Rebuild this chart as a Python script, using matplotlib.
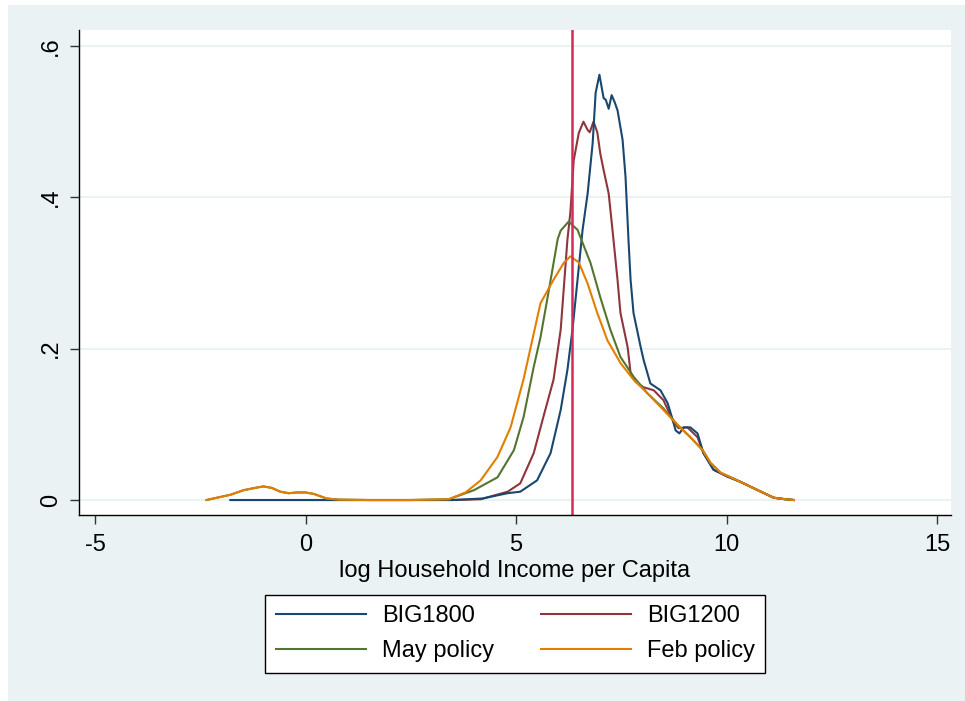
import numpy as np
import matplotlib.pyplot as plt
from matplotlib.patches import Rectangle

plt.rcParams['font.family'] = ['Liberation Sans', 'DejaVu Sans']
plt.rcParams['axes.unicode_minus'] = False

# Kernel density estimates
x_big1800 = [-1.78, 0.0, 2.0, 3.5, 4.2, 4.8, 5.1, 5.5, 5.82, 6.06, 6.22, 6.34, 6.46, 6.58, 6.7,
             6.82, 6.89, 6.98, 7.08, 7.13, 7.2, 7.27, 7.34, 7.41, 7.53, 7.6, 7.67, 7.72, 7.79,
             7.96, 8.03, 8.19, 8.43, 8.6, 8.72, 8.79, 8.88, 8.98, 9.14, 9.31, 9.45, 9.69, 10.02,
             10.33, 10.74, 11.12, 11.4, 11.6]
y_big1800 = [0.0, 0.0, 0.0, 0.0, 0.002, 0.009, 0.011, 0.026, 0.062, 0.119, 0.172, 0.225, 0.291,
             0.357, 0.405, 0.472, 0.538, 0.562, 0.531, 0.529, 0.517, 0.535, 0.526, 0.515, 0.476,
             0.427, 0.344, 0.291, 0.247, 0.202, 0.185, 0.154, 0.145, 0.128, 0.106, 0.092, 0.088,
             0.096, 0.096, 0.088, 0.062, 0.040, 0.031, 0.024, 0.013, 0.003, 0.001, 0.0]

x_big1200 = [-1.78, 0.0, 2.0, 3.5, 4.16, 4.8, 5.1, 5.42, 5.65, 5.89, 6.06, 6.22, 6.29, 6.37,
             6.49, 6.6, 6.7, 6.75, 6.84, 6.93, 7.0, 7.08, 7.2, 7.29, 7.41, 7.48, 7.65, 7.72,
             7.84, 8.03, 8.27, 8.5, 8.74, 8.86, 9.07, 9.31, 9.45, 9.69, 10.02, 10.33, 10.74,
             11.12, 11.4, 11.6]
y_big1200 = [0.0, 0.0, 0.0, 0.0, 0.001, 0.011, 0.022, 0.062, 0.11, 0.159, 0.225, 0.344, 0.38,
             0.449, 0.485, 0.5, 0.489, 0.486, 0.5, 0.486, 0.458, 0.436, 0.405, 0.357, 0.291,
             0.247, 0.202, 0.168, 0.156, 0.149, 0.145, 0.132, 0.103, 0.095, 0.096, 0.083, 0.062,
             0.040, 0.031, 0.024, 0.013, 0.003, 0.001, 0.0]

x_may = [-2.35, -1.78, -1.47, -1.2, -1.0, -0.8, -0.6, -0.4, -0.2, 0.0, 0.2, 0.5, 0.8, 1.5,
         2.5, 3.4, 4.0, 4.56, 4.95, 5.18, 5.42, 5.58, 5.75, 5.99, 6.06, 6.25, 6.46, 6.77, 7.0,
         7.24, 7.48, 7.79, 8.12, 8.5, 8.84, 9.14, 9.43, 9.62, 9.86, 10.1, 10.33, 10.74, 11.12,
         11.4, 11.6]
y_may = [0.0, 0.007, 0.013, 0.016, 0.018, 0.016, 0.011, 0.009, 0.01, 0.01, 0.008, 0.002,
         0.0005, 0.0, 0.0, 0.001, 0.013, 0.03, 0.066, 0.11, 0.176, 0.215, 0.268, 0.345, 0.356,
         0.368, 0.357, 0.313, 0.268, 0.225, 0.189, 0.163, 0.141, 0.121, 0.099, 0.083, 0.066,
         0.049, 0.036, 0.030, 0.024, 0.013, 0.003, 0.001, 0.0]

x_feb = [-2.35, -1.78, -1.47, -1.2, -1.0, -0.8, -0.6, -0.4, -0.2, 0.0, 0.2, 0.5, 0.8, 1.5,
         2.5, 3.4, 3.8, 4.16, 4.56, 4.87, 5.18, 5.42, 5.58, 5.89, 6.13, 6.29, 6.49, 6.7, 6.93,
         7.17, 7.48, 7.79, 8.12, 8.5, 8.84, 9.14, 9.43, 9.62, 9.86, 10.1, 10.33, 10.74, 11.12,
         11.4, 11.6]
y_feb = [0.0, 0.007, 0.013, 0.016, 0.018, 0.016, 0.011, 0.009, 0.01, 0.01, 0.008, 0.002,
         0.0005, 0.0, 0.0, 0.001, 0.01, 0.026, 0.057, 0.096, 0.16, 0.22, 0.26, 0.291, 0.313,
         0.322, 0.314, 0.286, 0.247, 0.211, 0.181, 0.159, 0.141, 0.119, 0.099, 0.083, 0.066,
         0.049, 0.036, 0.030, 0.024, 0.013, 0.003, 0.001, 0.0]

cutoff = 6.34
labels = ["BIG1800", "BIG1200", "May policy", "Feb policy"]
colors = ["#1A476F", "#90353B", "#55752F", "#E37E00"]

fig = plt.figure(figsize=(9.65, 7.01), dpi=100, facecolor="white")
# Stata-like outer background
fig.patches.append(Rectangle((8 / 965, 0), 1, (701 - 5) / 701, transform=fig.transFigure,
                             facecolor="#EAF2F3", edgecolor="none", zorder=-1))
ax = fig.add_axes([79 / 965, (701 - 515) / 701, (951 - 79) / 965, (515 - 30) / 701])
ax.set_facecolor("white")

series = [(x_big1800, y_big1800), (x_big1200, y_big1200), (x_may, y_may), (x_feb, y_feb)]
draw_order = [1, 0, 2, 3]
handles = [None] * 4
for i in draw_order:
    xs, ys = series[i]
    h, = ax.plot(xs, ys, color=colors[i], lw=1.5, label=labels[i])
    handles[i] = h

ax.axvline(cutoff, color="#D52B5A", lw=1.8)

ax.set_xlim(-5.38, 15.33)
ax.set_ylim(-0.0198, 0.6211)
ax.set_xticks([-5, 0, 5, 10, 15])
ax.set_yticks([0, 0.2, 0.4, 0.6])
ax.set_yticklabels(["0", ".2", ".4", ".6"], rotation=90, va="center")
ax.yaxis.grid(True, color="#E8F0F2", lw=1.2)
ax.set_axisbelow(True)
ax.tick_params(axis="both", labelsize=17, length=6.5, width=1, color="#333333", pad=6)
ax.tick_params(axis="x", pad=7)
for s in ["top", "right"]:
    ax.spines[s].set_visible(False)
for s in ["left", "bottom"]:
    ax.spines[s].set_linewidth(1)
ax.set_xlabel("log Household Income per Capita", fontsize=17, labelpad=3)

# legend is filled column by column, so reorder to get row-wise layout
leg_order = [0, 2, 1, 3]
leg = fig.legend(handles=[handles[k] for k in leg_order], labels=[labels[k] for k in leg_order],
                 loc="center", bbox_to_anchor=(0.534, 0.0956), ncol=2,
                 fontsize=17, frameon=True, fancybox=False, framealpha=1, handlelength=3.8,
                 handletextpad=0.68, columnspacing=2.0, labelspacing=0.55, borderpad=0.45)
leg.get_frame().set_edgecolor("black")
leg.get_frame().set_facecolor("white")
leg.get_frame().set_linewidth(1)

fig.savefig("out.png", dpi=100, facecolor=fig.get_facecolor())
